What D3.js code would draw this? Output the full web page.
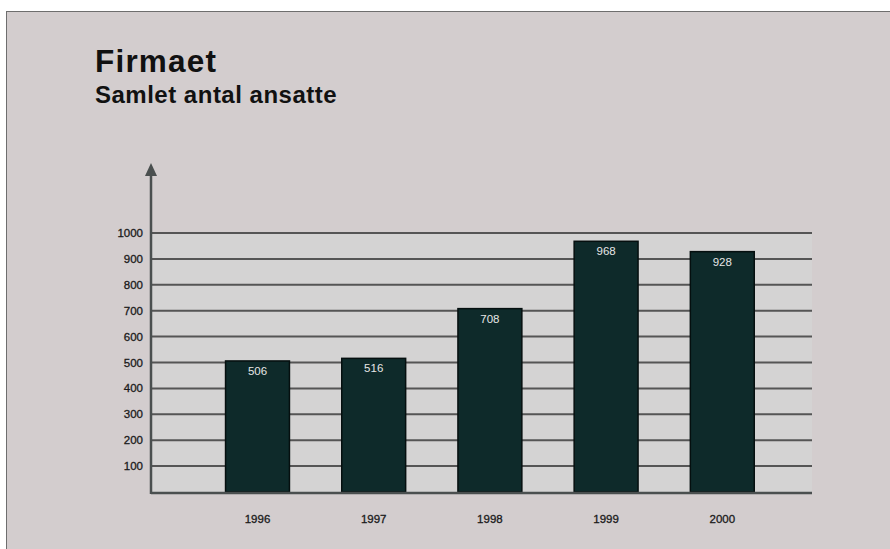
<!DOCTYPE html>
<html>
<head>
<meta charset="utf-8">
<script src="https://cdn.jsdelivr.net/npm/d3@7"></script>
<style>
  body { margin: 0; background: #fff; }
  svg { display: block; font-family: "Liberation Sans", Arial, sans-serif; }
</style>
</head>
<body>
<div id="chart"></div>
<script>
var years = ['1996', '1997', '1998', '1999', '2000'];
var employees = [506, 516, 708, 968, 928];
var yTicks = [100, 200, 300, 400, 500, 600, 700, 800, 900, 1000];

var width = 890, height = 549;

var svg = d3.select('#chart')
  .append('svg')
  .attr('width', width)
  .attr('height', height);

// page frame
svg.append('rect')
  .attr('x', 6.5).attr('y', 11.5)
  .attr('width', width).attr('height', height)
  .attr('fill', '#d3cdce')
  .attr('stroke', '#6e6e6e')
  .attr('stroke-width', 1);

svg.append('text')
  .attr('x', 95).attr('y', 72)
  .attr('font-size', 31.5).attr('font-weight', 'bold')
  .attr('letter-spacing', 1.2)
  .attr('fill', '#111')
  .text('Firmaet');

svg.append('text')
  .attr('x', 95).attr('y', 103)
  .attr('font-size', 24).attr('font-weight', 'bold')
  .attr('letter-spacing', 0.5)
  .attr('fill', '#111')
  .text('Samlet antal ansatte');

var x = d3.scaleBand()
  .domain(years)
  .range([199.4, 780.4])
  .paddingInner(0.45)
  .paddingOuter(0.225);

var y = d3.scaleLinear()
  .domain([0, 1000])
  .range([492, 233]);

var axisLeft = 151, axisRight = 812;

// slightly greyer plot zone inside the axes
svg.append('rect')
  .attr('x', axisLeft).attr('y', y(1000))
  .attr('width', axisRight - axisLeft).attr('height', y(0) - y(1000))
  .attr('fill', '#d4d3d3');

// gridlines
svg.append('g')
  .selectAll('line')
  .data(yTicks)
  .join('line')
  .attr('x1', axisLeft).attr('x2', axisRight)
  .attr('y1', function(d){ return y(d); })
  .attr('y2', function(d){ return y(d); })
  .attr('stroke', '#555')
  .attr('stroke-width', 2);

// y tick labels
svg.append('g')
  .selectAll('text')
  .data(yTicks)
  .join('text')
  .attr('x', 143)
  .attr('y', function(d){ return y(d) + 4; })
  .attr('text-anchor', 'end')
  .attr('font-size', 11.5)
  .attr('fill', '#1a1a1a')
  .attr('stroke', '#1a1a1a')
  .attr('stroke-width', 0.3)
  .text(function(d){ return d; });

// bars
svg.append('g')
  .selectAll('rect')
  .data(employees)
  .join('rect')
  .attr('x', function(d, i){ return x(years[i]); })
  .attr('y', function(d){ return y(d); })
  .attr('width', x.bandwidth())
  .attr('height', function(d){ return y(0) - y(d); })
  .attr('fill', '#0e2a2a')
  .attr('stroke', '#050f0f')
  .attr('stroke-width', 1.5);

// value labels
svg.append('g')
  .selectAll('text')
  .data(employees)
  .join('text')
  .attr('x', function(d, i){ return x(years[i]) + x.bandwidth() / 2; })
  .attr('y', function(d){ return y(d) + 14; })
  .attr('text-anchor', 'middle')
  .attr('font-size', 11.5)
  .attr('fill', '#e6e6e6')
  .text(function(d){ return d; });

// year labels
svg.append('g')
  .selectAll('text')
  .data(years)
  .join('text')
  .attr('x', function(d){ return x(d) + x.bandwidth() / 2; })
  .attr('y', 523)
  .attr('text-anchor', 'middle')
  .attr('font-size', 11.5)
  .attr('fill', '#1a1a1a')
  .attr('stroke', '#1a1a1a')
  .attr('stroke-width', 0.3)
  .text(function(d){ return d; });

// axes
svg.append('line')
  .attr('x1', axisLeft).attr('x2', axisRight)
  .attr('y1', y(0) + 1).attr('y2', y(0) + 1)
  .attr('stroke', '#4a4f4f')
  .attr('stroke-width', 2.5);

svg.append('line')
  .attr('x1', axisLeft).attr('x2', axisLeft)
  .attr('y1', y(0) + 2).attr('y2', 172)
  .attr('stroke', '#4a4f4f')
  .attr('stroke-width', 2.5);

svg.append('path')
  .attr('d', 'M' + axisLeft + ',163 L' + (axisLeft - 6) + ',176 L' + (axisLeft + 6) + ',176 Z')
  .attr('fill', '#4a4f4f');
</script>
</body>
</html>
